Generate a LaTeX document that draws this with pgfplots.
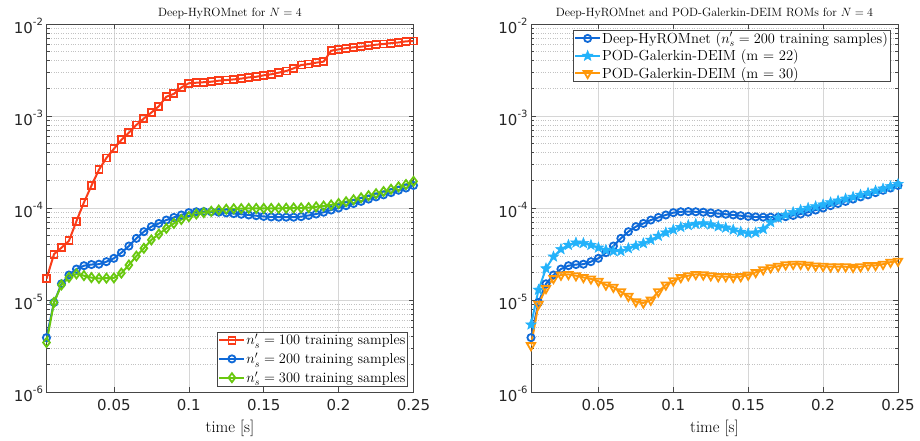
\documentclass[border=0pt]{standalone}
\usepackage{fontspec}
\usepackage{pgfplots}
\usepackage{pgfplotstable}
\pgfplotsset{compat=1.18}
\usetikzlibrary{plotmarks}
\newfontfamily\tickfont{DejaVu Sans}
\definecolor{cred}{RGB}{250,60,25}
\definecolor{cblue}{RGB}{15,105,215}
\definecolor{cgreen}{RGB}{105,200,15}
\definecolor{clblue}{RGB}{35,178,250}
\definecolor{corange}{RGB}{255,152,10}
\definecolor{axgray}{RGB}{70,70,70}

\pgfdeclareplotmark{pentastar}{%
  \pgfpathmoveto{\pgfpointpolar{90}{\pgfplotmarksize}}%
  \pgfpathlineto{\pgfpointpolar{126}{0.42\pgfplotmarksize}}%
  \pgfpathlineto{\pgfpointpolar{162}{\pgfplotmarksize}}%
  \pgfpathlineto{\pgfpointpolar{198}{0.42\pgfplotmarksize}}%
  \pgfpathlineto{\pgfpointpolar{234}{\pgfplotmarksize}}%
  \pgfpathlineto{\pgfpointpolar{270}{0.42\pgfplotmarksize}}%
  \pgfpathlineto{\pgfpointpolar{306}{\pgfplotmarksize}}%
  \pgfpathlineto{\pgfpointpolar{342}{0.42\pgfplotmarksize}}%
  \pgfpathlineto{\pgfpointpolar{18}{\pgfplotmarksize}}%
  \pgfpathlineto{\pgfpointpolar{54}{0.42\pgfplotmarksize}}%
  \pgfpathclose
  \pgfusepathqfillstroke
}

\pgfplotstableread{
t     red      blue     green    star     orange
0.005 1.7e-5   3.9e-6   3.45e-6  5.4e-6   3.2e-6
0.010 3.15e-5  9.4e-6   9.4e-6   1.29e-5  9.0e-6
0.015 3.7e-5   1.5e-5   1.46e-5  2.2e-5   1.34e-5
0.020 4.4e-5   1.87e-5  1.76e-5  2.96e-5  1.72e-5
0.025 7.2e-5   2.17e-5  1.92e-5  3.56e-5  1.87e-5
0.030 1.15e-4  2.36e-5  1.84e-5  3.96e-5  1.9e-5
0.035 1.75e-4  2.43e-5  1.75e-5  4.2e-5   1.84e-5
0.040 2.6e-4   2.45e-5  1.72e-5  4.15e-5  1.76e-5
0.045 3.5e-4   2.61e-5  1.73e-5  3.96e-5  1.7e-5
0.050 4.4e-4   2.84e-5  1.74e-5  3.7e-5   1.6e-5
0.055 5.5e-4   3.27e-5  1.96e-5  3.5e-5   1.46e-5
0.060 6.6e-4   3.86e-5  2.4e-5   3.4e-5   1.38e-5
0.065 8.0e-4   4.68e-5  3.0e-5   3.4e-5   1.23e-5
0.070 9.4e-4   5.53e-5  3.65e-5  3.65e-5  1.1e-5
0.075 1.09e-3  6.27e-5  4.5e-5   3.88e-5  9.6e-6
0.080 1.28e-3  6.8e-5   5.2e-5   4.13e-5  9.3e-6
0.085 1.62e-3  7.4e-5   6.0e-5   4.5e-5   1.0e-5
0.090 1.74e-3  7.9e-5   6.8e-5   4.97e-5  1.23e-5
0.095 2.04e-3  8.4e-5   7.5e-5   5.4e-5   1.46e-5
0.100 2.27e-3  8.9e-5   8.05e-5  5.8e-5   1.62e-5
0.105 2.3e-3   9.1e-5   8.6e-5   6.2e-5   1.76e-5
0.110 2.33e-3  9.15e-5  8.9e-5   6.5e-5   1.84e-5
0.115 2.36e-3  9.1e-5   9.2e-5   6.7e-5   1.9e-5
0.120 2.42e-3  9.0e-5   9.5e-5   6.8e-5   1.88e-5
0.125 2.46e-3  8.85e-5  9.7e-5   6.6e-5   1.84e-5
0.130 2.5e-3   8.7e-5   9.8e-5   6.3e-5   1.8e-5
0.135 2.55e-3  8.55e-5  9.85e-5  6.1e-5   1.8e-5
0.140 2.63e-3  8.4e-5   9.9e-5   5.8e-5   1.77e-5
0.145 2.67e-3  8.25e-5  9.9e-5   5.5e-5   1.8e-5
0.150 2.77e-3  8.1e-5   9.9e-5   5.3e-5   1.87e-5
0.155 2.84e-3  8.0e-5   9.9e-5   5.4e-5   2.0e-5
0.160 2.96e-3  7.95e-5  9.9e-5   5.9e-5   2.14e-5
0.165 3.08e-3  7.95e-5  9.95e-5  7.0e-5   2.25e-5
0.170 3.3e-3   7.95e-5  1.0e-4   7.8e-5   2.33e-5
0.175 3.58e-3  8.05e-5  1.0e-4   8.4e-5   2.42e-5
0.180 3.67e-3  8.3e-5   1.01e-4  9.0e-5   2.45e-5
0.185 3.8e-3   8.6e-5   1.03e-4  9.5e-5   2.45e-5
0.190 3.9e-3   9.0e-5   1.05e-4  1.0e-4   2.4e-5
0.195 5.13e-3  9.5e-5   1.08e-4  1.04e-4  2.35e-5
0.200 5.3e-3   1.0e-4   1.12e-4  1.09e-4  2.33e-5
0.205 5.45e-3  1.06e-4  1.17e-4  1.15e-4  2.3e-5
0.210 5.58e-3  1.12e-4  1.23e-4  1.2e-4   2.3e-5
0.215 5.67e-3  1.18e-4  1.29e-4  1.26e-4  2.3e-5
0.220 5.8e-3   1.25e-4  1.36e-4  1.32e-4  2.27e-5
0.225 5.96e-3  1.32e-4  1.43e-4  1.39e-4  2.3e-5
0.230 6.06e-3  1.39e-4  1.51e-4  1.46e-4  2.38e-5
0.235 6.2e-3   1.47e-4  1.6e-4   1.54e-4  2.38e-5
0.240 6.3e-3   1.56e-4  1.7e-4   1.62e-4  2.45e-5
0.245 6.48e-3  1.65e-4  1.8e-4   1.72e-4  2.58e-5
0.250 6.54e-3  1.76e-4  1.95e-4  1.82e-4  2.65e-5
}\data

\newcommand{\tenpow}[1]{10\raisebox{0.5em}{\fontsize{10}{10}\selectfont #1}}

\pgfplotsset{
  legend image code/.code={\draw[mark repeat=2,mark phase=2,#1]
       plot coordinates {(0pt,0pt) (12.5pt,0pt) (25pt,0pt)};},
  sred/.style={color=cred, line width=2pt, mark=square, mark size=3.5pt, mark options={solid, fill=white, line width=1.8pt}},
  sblue/.style={color=cblue, line width=2pt, mark=o, mark size=3.6pt, mark options={solid, fill=white, line width=1.8pt}},
  sgreen/.style={color=cgreen, line width=2pt, mark=diamond, mark size=4.5pt, mark options={solid, fill=white, line width=1.8pt}},
  sstar/.style={color=clblue, line width=2pt, mark=pentastar, mark size=5.6pt, mark options={solid, fill=clblue, line width=0.5pt}},
  sorange/.style={color=corange, line width=2pt, mark=triangle, mark size=4.8pt, mark options={solid, fill=white, rotate=180, line width=1.8pt}},
}

\begin{document}
\begin{tikzpicture}
\useasboundingbox (0,0) rectangle (920pt,440pt);
\begin{axis}[
    scale only axis, width=367pt, height=368pt,
    at={(46.5pt,48pt)}, anchor=south west,
    xmin=0.005, xmax=0.25, ymode=log, ymin=1e-6, ymax=1e-2,
    xtick={0.05,0.1,0.15,0.2,0.25},
    xticklabels={0.05,0.1,0.15,0.2,0.25},
    ytick={1e-6,1e-5,1e-4,1e-3,1e-2},
    yticklabels={\tenpow{-6},\tenpow{-5},\tenpow{-4},\tenpow{-3},\tenpow{-2}},
    tick label style={font=\tickfont\fontsize{15}{15}\selectfont, text=black!85},
    xticklabel style={yshift=-4pt},
    yticklabel style={yshift=-2pt},
    grid=both,
    major grid style={black!16, line width=0.5pt},
    minor grid style={black!24, dotted, line width=0.6pt},
    minor x tick num=0,
    tick align=inside,
    axis line style={axgray, line width=0.6pt},
    tick style={axgray, line width=0.5pt},
    major tick length=5pt, minor tick length=3pt,
    xlabel={time [s]},
    xlabel style={font=\fontsize{16.5}{16.5}\selectfont, yshift=-2pt},
    title style={font=\fontsize{12}{12}\selectfont, yshift=-4pt},
    title={Deep-HyROMnet for $N = 4$},
    legend cell align=left,
    legend style={font=\fontsize{14.3}{17}\selectfont, draw=axgray, line width=0.6pt,
      inner sep=1pt, row sep=4.5pt, nodes={inner sep=1pt},
      at={(0.984,0.016)}, anchor=south east},
  ]
\addplot[sred] table[x=t, y=red] {\data};
\addlegendentry{$n_s' = 100$ training samples}
\addplot[sblue] table[x=t, y=blue] {\data};
\addlegendentry{$n_s' = 200$ training samples}
\addplot[sgreen] table[x=t, y=green] {\data};
\addlegendentry{$n_s' = 300$ training samples}
\end{axis}
\begin{axis}[
    scale only axis, width=367pt, height=368pt,
    at={(531pt,48pt)}, anchor=south west,
    xmin=0.005, xmax=0.25, ymode=log, ymin=1e-6, ymax=1e-2,
    xtick={0.05,0.1,0.15,0.2,0.25},
    xticklabels={0.05,0.1,0.15,0.2,0.25},
    ytick={1e-6,1e-5,1e-4,1e-3,1e-2},
    yticklabels={\tenpow{-6},\tenpow{-5},\tenpow{-4},\tenpow{-3},\tenpow{-2}},
    tick label style={font=\tickfont\fontsize{15}{15}\selectfont, text=black!85},
    xticklabel style={yshift=-4pt},
    yticklabel style={yshift=-2pt},
    grid=both,
    major grid style={black!16, line width=0.5pt},
    minor grid style={black!24, dotted, line width=0.6pt},
    minor x tick num=0,
    tick align=inside,
    axis line style={axgray, line width=0.6pt},
    tick style={axgray, line width=0.5pt},
    major tick length=5pt, minor tick length=3pt,
    xlabel={time [s]},
    xlabel style={font=\fontsize{16.5}{16.5}\selectfont, yshift=-2pt},
    title style={font=\fontsize{12}{12}\selectfont, yshift=-4pt},
    title={Deep-HyROMnet and POD-Galerkin-DEIM ROMs for $N = 4$},
    legend cell align=left,
    legend style={font=\fontsize{14.6}{17}\selectfont, draw=axgray, line width=0.6pt,
      inner sep=1pt, row sep=3pt, nodes={inner sep=1pt},
      at={(0.114,0.984)}, anchor=north west},
  ]
\addplot[sblue] table[x=t, y=blue] {\data};
\addlegendentry{Deep-HyROMnet ($n_s' = 200$ training samples)}
\addplot[sstar] table[x=t, y=star] {\data};
\addlegendentry{POD-Galerkin-DEIM (m = 22)}
\addplot[sorange] table[x=t, y=orange] {\data};
\addlegendentry{POD-Galerkin-DEIM (m = 30)}
\end{axis}
\end{tikzpicture}
\end{document}
